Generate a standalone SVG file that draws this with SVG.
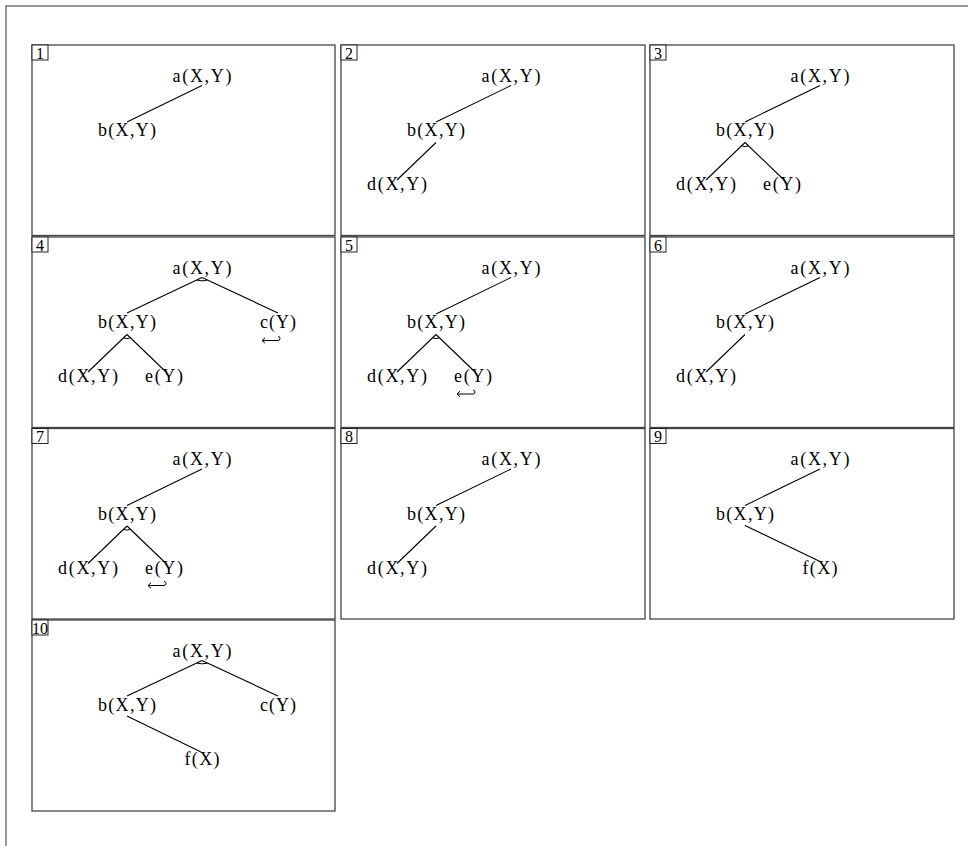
<svg xmlns="http://www.w3.org/2000/svg" width="968" height="846" viewBox="0 0 968 846">
<style>
  .frame{fill:none;stroke:#777;stroke-width:1.5}
  .panel{fill:#fff;stroke:#444;stroke-width:1.3}
  .numbox{fill:#fff;stroke:#222;stroke-width:1}
  .num{font-family:"Liberation Serif","DejaVu Serif",serif;font-size:16px;fill:#000;text-anchor:middle}
  .lbl{font-family:"Liberation Serif","DejaVu Serif",serif;font-size:18px;fill:#000;text-anchor:middle}
  .edge{fill:none;stroke:#000;stroke-width:1.1}
  .arc{fill:none;stroke:#000;stroke-width:1}
  .ret{fill:none;stroke:#000;stroke-width:1}
</style>
<defs>
  <g id="tA"><text class="lbl" x="170" y="36.5" textLength="59" lengthAdjust="spacing">a(X,Y)</text></g>
  <g id="tB"><text class="lbl" x="95" y="91" textLength="58" lengthAdjust="spacing">b(X,Y)</text></g>
  <g id="tC"><text class="lbl" x="246" y="91" textLength="36" lengthAdjust="spacing">c(Y)</text></g>
  <g id="tD"><text class="lbl" x="56" y="145" textLength="60" lengthAdjust="spacing">d(X,Y)</text></g>
  <g id="tE"><text class="lbl" x="132" y="145" textLength="38" lengthAdjust="spacing">e(Y)</text></g>
  <g id="tF"><text class="lbl" x="170" y="145" textLength="35" lengthAdjust="spacing">f(X)</text></g>
</defs>
<rect width="968" height="846" fill="#fff"/>
<path class="frame" d="M6,846 V6 H968"/>

<!-- Panel 1 -->
<g id="panel1" transform="translate(32,45)">
  <rect class="panel" x="0" y="0" width="303" height="190.5"/>
  <rect class="numbox" x="0" y="0" width="16" height="15"/><text class="num" x="8" y="13.5">1</text>
  <g id="p1-connectors"><path class="edge" d="M170,40.5 L95,77"/></g>
  <g id="p1-a"><use href="#tA"/></g>
  <g id="p1-b"><use href="#tB"/></g>
</g>

<!-- Panel 2 -->
<g id="panel2" transform="translate(341,45)">
  <rect class="panel" x="0" y="0" width="304" height="190.5"/>
  <rect class="numbox" x="0" y="0" width="16" height="15"/><text class="num" x="8" y="13.5">2</text>
  <g id="p2-connectors"><path class="edge" d="M170,40.5 L95,77"/><path class="edge" d="M95,97.5 L56,135"/></g>
  <g id="p2-a"><use href="#tA"/></g>
  <g id="p2-b"><use href="#tB"/></g>
  <g id="p2-d"><use href="#tD"/></g>
</g>

<!-- Panel 3 -->
<g id="panel3" transform="translate(650,45)">
  <rect class="panel" x="0" y="0" width="304" height="190.5"/>
  <rect class="numbox" x="0" y="0" width="16" height="15"/><text class="num" x="8" y="13.5">3</text>
  <g id="p3-connectors"><path class="edge" d="M170,40.5 L95,77"/><path class="edge" d="M95,97.5 L56,135"/><path class="edge" d="M95,97.5 L133,134"/><path class="arc" d="M91.6,100.8 Q95,102.6 98.4,100.8"/></g>
  <g id="p3-a"><use href="#tA"/></g>
  <g id="p3-b"><use href="#tB"/></g>
  <g id="p3-d"><use href="#tD"/></g>
  <g id="p3-e"><use href="#tE"/></g>
</g>

<!-- Panel 4 -->
<g id="panel4" transform="translate(32,237)">
  <rect class="panel" x="0" y="0" width="303" height="190.5"/>
  <rect class="numbox" x="0" y="0" width="16" height="15"/><text class="num" x="8" y="13.5">4</text>
  <g id="p4-connectors"><path class="edge" d="M170,40.5 L95,76"/><path class="edge" d="M170,40.5 L246,76"/><path class="arc" d="M164.6,43.1 Q170,44.6 175.4,43.1"/><path class="edge" d="M95,97.5 L56,135"/><path class="edge" d="M95,97.5 L133,134"/><path class="arc" d="M91.6,100.8 Q95,102.6 98.4,100.8"/></g>
  <g id="p4-a"><use href="#tA"/></g>
  <g id="p4-b"><use href="#tB"/></g>
  <g id="p4-c"><use href="#tC"/><path class="ret" d="M230,103.5 H246 A2,2 0 0 0 246,99.5 M233,100.8 L230,103.5 L233,106.2"/></g>
  <g id="p4-d"><use href="#tD"/></g>
  <g id="p4-e"><use href="#tE"/></g>
</g>

<!-- Panel 5 -->
<g id="panel5" transform="translate(341,237)">
  <rect class="panel" x="0" y="0" width="304" height="190.5"/>
  <rect class="numbox" x="0" y="0" width="16" height="15"/><text class="num" x="8" y="13.5">5</text>
  <g id="p5-connectors"><path class="edge" d="M170,40.5 L95,77"/><path class="edge" d="M95,97.5 L56,135"/><path class="edge" d="M95,97.5 L133,134"/><path class="arc" d="M91.6,100.8 Q95,102.6 98.4,100.8"/></g>
  <g id="p5-a"><use href="#tA"/></g>
  <g id="p5-b"><use href="#tB"/></g>
  <g id="p5-d"><use href="#tD"/></g>
  <g id="p5-e"><use href="#tE"/><path class="ret" d="M116,157 H132 A2,2 0 0 0 132,153 M119,154.3 L116,157 L119,159.7"/></g>
</g>

<!-- Panel 6 -->
<g id="panel6" transform="translate(650,237)">
  <rect class="panel" x="0" y="0" width="304" height="190.5"/>
  <rect class="numbox" x="0" y="0" width="16" height="15"/><text class="num" x="8" y="13.5">6</text>
  <g id="p6-connectors"><path class="edge" d="M170,40.5 L95,77"/><path class="edge" d="M95,97.5 L56,135"/></g>
  <g id="p6-a"><use href="#tA"/></g>
  <g id="p6-b"><use href="#tB"/></g>
  <g id="p6-d"><use href="#tD"/></g>
</g>

<!-- Panel 7 -->
<g id="panel7" transform="translate(32,428.5)">
  <rect class="panel" x="0" y="0" width="303" height="190.5"/>
  <rect class="numbox" x="0" y="0" width="16" height="15"/><text class="num" x="8" y="13.5">7</text>
  <g id="p7-connectors"><path class="edge" d="M170,40.5 L95,77"/><path class="edge" d="M95,97.5 L56,135"/><path class="edge" d="M95,97.5 L133,134"/><path class="arc" d="M91.6,100.8 Q95,102.6 98.4,100.8"/></g>
  <g id="p7-a"><use href="#tA"/></g>
  <g id="p7-b"><use href="#tB"/></g>
  <g id="p7-d"><use href="#tD"/></g>
  <g id="p7-e"><use href="#tE"/><path class="ret" d="M116,157 H132 A2,2 0 0 0 132,153 M119,154.3 L116,157 L119,159.7"/></g>
</g>

<!-- Panel 8 -->
<g id="panel8" transform="translate(341,428.5)">
  <rect class="panel" x="0" y="0" width="304" height="190.5"/>
  <rect class="numbox" x="0" y="0" width="16" height="15"/><text class="num" x="8" y="13.5">8</text>
  <g id="p8-connectors"><path class="edge" d="M170,40.5 L95,77"/><path class="edge" d="M95,97.5 L56,135"/></g>
  <g id="p8-a"><use href="#tA"/></g>
  <g id="p8-b"><use href="#tB"/></g>
  <g id="p8-d"><use href="#tD"/></g>
</g>

<!-- Panel 9 -->
<g id="panel9" transform="translate(650,428.5)">
  <rect class="panel" x="0" y="0" width="304" height="190.5"/>
  <rect class="numbox" x="0" y="0" width="16" height="15"/><text class="num" x="8" y="13.5">9</text>
  <g id="p9-connectors"><path class="edge" d="M170,40.5 L95,77"/><path class="edge" d="M95,97 L170,133"/></g>
  <g id="p9-a"><use href="#tA"/></g>
  <g id="p9-b"><use href="#tB"/></g>
  <g id="p9-f"><use href="#tF"/></g>
</g>

<!-- Panel 10 -->
<g id="panel10" transform="translate(32,620)">
  <rect class="panel" x="0" y="0" width="303" height="191"/>
  <rect class="numbox" x="0" y="0" width="16" height="15"/><text class="num" x="8" y="13.5" textLength="16" lengthAdjust="spacingAndGlyphs">10</text>
  <g id="p10-connectors"><path class="edge" d="M170,40.5 L95,76"/><path class="edge" d="M170,40.5 L246,76"/><path class="arc" d="M164.6,43.1 Q170,44.6 175.4,43.1"/><path class="edge" d="M95,96 L169,132"/></g>
  <g id="p10-a"><use href="#tA"/></g>
  <g id="p10-b"><use href="#tB"/></g>
  <g id="p10-c"><use href="#tC"/></g>
  <g id="p10-f"><use href="#tF"/></g>
</g>
</svg>
